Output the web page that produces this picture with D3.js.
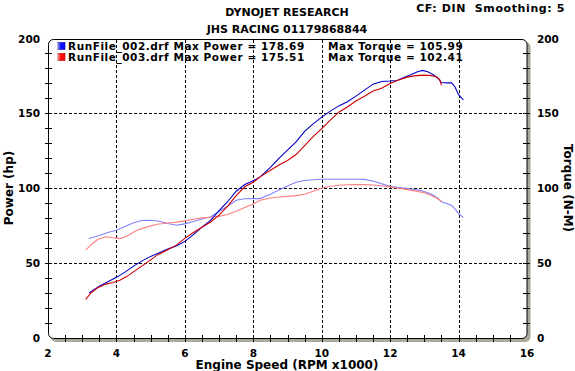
<!DOCTYPE html>
<html>
<head>
<meta charset="utf-8">
<script src="https://cdn.jsdelivr.net/npm/d3@7"></script>
<style>
  body { margin: 0; background: #fff; }
  svg { display: block; font-family: "DejaVu Sans", Verdana, sans-serif; font-weight: bold; }
</style>
</head>
<body>
<div id="chart"></div>
<script>
// run 002 (blue)
const rpm002 = [3.2, 3.5, 3.75, 4.0, 4.25, 4.5, 4.75, 5.0, 5.25, 5.5, 5.75, 6.0, 6.25, 6.5, 6.75, 7.0, 7.25, 7.5, 7.75, 8.0,
  8.2, 8.5, 8.75, 9.0, 9.25, 9.5, 9.75, 10.0, 10.25, 10.5, 10.75, 11.0, 11.25, 11.5, 11.75, 12.0, 12.2, 12.4, 12.6, 12.8,
  12.95, 13.1, 13.25, 13.4, 13.5, 13.65, 13.8, 13.9, 14.0, 14.14];
const power002 = [30, 34.5, 37.5, 40.5, 44, 48, 51.5, 54.5, 57, 59.5, 61.5, 64.5, 69, 74, 78.5, 85, 91, 98, 102.5, 105,
  107.6, 114, 120, 125.5, 131, 138, 143, 147.5, 151.5, 155, 157.8, 161.5, 165.5, 169.5, 171.3, 171.6, 172, 174, 175.8, 177.8,
  178.69, 177.8, 176, 173.5, 170.6, 170.4, 170.4, 167.5, 162.5, 159];
const torque002 = [66.4, 68.5, 70.5, 72, 74.5, 77, 78.5, 78.6, 78, 76.5, 75.3, 76.2, 77.8, 79.5, 81, 84.5, 88, 92, 93, 93.1,
  93.1, 96, 98.8, 101.5, 104, 105.2, 105.7, 105.99, 105.99, 105.99, 105.99, 105.99, 105.9, 104.8, 103, 101.3, 100.7, 100.2, 99.5, 98.9,
  98.2, 97, 95.5, 93.2, 91, 89.8, 88.5, 86, 83, 80.4];

// run 003 (red)
const rpm003 = [3.1, 3.25, 3.45, 3.7, 3.9, 4.1, 4.3, 4.6, 4.9, 5.2, 5.5, 5.75, 6.0, 6.25, 6.5, 6.75, 7.0, 7.25, 7.5, 7.75,
  8.0, 8.2, 8.5, 8.75, 9.0, 9.25, 9.5, 9.75, 10.0, 10.25, 10.5, 10.75, 11.0, 11.25, 11.5, 11.75, 12.0, 12.25, 12.5, 12.75,
  13.0, 13.2, 13.35, 13.45, 13.5];
const power003 = [25.8, 30, 33.5, 36, 37, 38.5, 41, 45.8, 50.5, 55.5, 59, 62, 66.5, 70.5, 74, 77.5, 82, 88, 95, 101,
  104, 107.6, 112, 115.5, 118.5, 122.5, 128.5, 134.5, 139.8, 145.5, 150.8, 154.3, 158.3, 161.5, 165, 166.8, 170, 172.3, 174.2, 175.2,
  175.51, 175.2, 174.5, 172.4, 168.7];
const torque003 = [58.7, 62, 65.8, 67.6, 66.9, 66.4, 68, 72, 74.2, 76, 76.8, 77.4, 78.2, 79.3, 80.2, 80.6, 81.2, 82.5, 84.7, 87.2,
  89.5, 92, 93.5, 94.2, 94.6, 95.1, 96, 98, 100.2, 101.3, 102, 102.3, 102.41, 102.4, 102.2, 101.7, 100.9, 100, 99.1, 98.1,
  97, 95.2, 93.5, 92, 91.5];

const legendNames = ["RunFile_002.drf", "RunFile_003.drf"];
const maxPower = ["178.69", "175.51"];
const maxTorque = ["105.99", "102.41"];

const xTicks = [2, 4, 6, 8, 10, 12, 14, 16];
const yTicks = [0, 50, 100, 150, 200];
const xGrid = [4, 6, 8, 10, 12, 14];
const yGrid = [50, 100, 150];

const W = 575, H = 371;
const svg = d3.select("#chart").append("svg")
    .attr("width", W)
    .attr("height", H);

svg.append("rect").attr("width", W).attr("height", H).attr("fill", "#fff");

// scales
const xs = d3.scaleLinear().domain([2, 16]).range([48, 527]);
const ys = d3.scaleLinear().domain([0, 200]).range([338, 38.5]);
const px = v => Math.round(v) + 0.5;

// frame + shadow
const fx0 = 48, fy0 = 39, fx1 = 526.5, fy1 = 338;
svg.append("rect")
    .attr("x", fx0 + 3).attr("y", fy0 + 3)
    .attr("width", fx1 - fx0 + 1).attr("height", fy1 - fy0 + 1)
    .attr("rx", 5)
    .attr("fill", "#aca899");
svg.append("rect")
    .attr("x", fx0 + 0.5).attr("y", fy0 + 0.5)
    .attr("width", fx1 - fx0).attr("height", fy1 - fy0)
    .attr("rx", 5)
    .attr("fill", "#fff")
    .attr("stroke", "#000")
    .attr("stroke-width", 1);

// grid
const grid = svg.append("g")
    .attr("stroke", "#000")
    .attr("stroke-width", 1)
    .attr("stroke-dasharray", "3,2")
    .attr("shape-rendering", "crispEdges");
grid.selectAll("line.v").data(xGrid).enter().append("line")
    .attr("x1", d => px(xs(d))).attr("x2", d => px(xs(d)))
    .attr("y1", fy0 + 1).attr("y2", fy1);
grid.selectAll("line.h").data(yGrid).enter().append("line")
    .attr("y1", d => px(ys(d))).attr("y2", d => px(ys(d)))
    .attr("x1", fx0 + 1).attr("x2", fx1);

// minor ticks
const ticks = svg.append("g").attr("stroke", "#000").attr("shape-rendering", "crispEdges");
const yMinor = d3.range(10, 200, 10);
ticks.selectAll("line.l").data(yMinor).enter().append("line")
    .attr("x1", 45).attr("x2", 52)
    .attr("y1", d => px(ys(d))).attr("y2", d => px(ys(d)));
ticks.selectAll("line.r").data(yMinor).enter().append("line")
    .attr("x1", 523).attr("x2", 530)
    .attr("y1", d => px(ys(d))).attr("y2", d => px(ys(d)));
const xMinor = d3.range(2.5, 16, 0.5);
ticks.selectAll("line.b").data(xMinor).enter().append("line")
    .attr("x1", d => px(xs(d))).attr("x2", d => px(xs(d)))
    .attr("y1", 335).attr("y2", 342);

// tick labels
svg.selectAll("text.yl").data(yTicks).enter().append("text")
    .attr("x", 40).attr("y", d => ys(d) + 4)
    .attr("text-anchor", "end")
    .style("font-size", "10.5px")
    .text(d => d);
svg.selectAll("text.yr").data(yTicks).enter().append("text")
    .attr("x", 537).attr("y", d => ys(d) + 4)
    .style("font-size", "10.5px")
    .text(d => d);
svg.selectAll("text.xl").data(xTicks).enter().append("text")
    .attr("x", d => xs(d)).attr("y", 357)
    .attr("text-anchor", "middle")
    .style("font-size", "10.5px")
    .text(d => d);

// axis titles
svg.append("text")
    .attr("transform", "translate(12.5,188) rotate(-90)")
    .attr("text-anchor", "middle")
    .style("font-size", "12px")
    .text("Power (hp)");
svg.append("text")
    .attr("transform", "translate(563.5,188) rotate(90)")
    .attr("text-anchor", "middle")
    .style("font-size", "12px")
    .text("Torque (N-M)");
svg.append("text")
    .attr("x", 287).attr("y", 369)
    .attr("text-anchor", "middle")
    .style("font-size", "12px")
    .text("Engine Speed (RPM x1000)");

// titles
svg.append("text")
    .attr("x", 287).attr("y", 16)
    .attr("text-anchor", "middle")
    .style("font-size", "11px")
    .text("DYNOJET RESEARCH");
svg.append("text")
    .attr("x", 287).attr("y", 32.5)
    .attr("text-anchor", "middle")
    .style("font-size", "11px")
    .text("JHS RACING 01179868844");
svg.append("text")
    .attr("x", 565).attr("y", 12)
    .attr("text-anchor", "end")
    .style("font-size", "11px")
    .style("white-space", "pre")
    .style("letter-spacing", "0.6px")
    .text("CF: DIN  Smoothing: 5");

// curves
const line = d3.line().x(d => xs(d[0])).y(d => ys(d[1]));
const series = [
    { rpm: rpm002, vals: torque002, color: "#8080ff" },
    { rpm: rpm003, vals: torque003, color: "#ff7f7f" },
    { rpm: rpm002, vals: power002, color: "#0000c8" },
    { rpm: rpm003, vals: power003, color: "#d00000" }
];
svg.append("g").selectAll("path").data(series).enter().append("path")
    .attr("d", s => line(s.rpm.map((r, i) => [r, s.vals[i]])))
    .attr("fill", "none")
    .attr("stroke", s => s.color)
    .attr("stroke-width", 1.1);

// legend
const defs = svg.append("defs");
[["gb", "#d0d0ff", "#1010ff"], ["gr", "#ffd0d0", "#ff1010"]].forEach(g => {
    const lg = defs.append("linearGradient").attr("id", g[0]);
    lg.append("stop").attr("offset", "0").attr("stop-color", g[1]);
    lg.append("stop").attr("offset", "0.35").attr("stop-color", g[2]);
    lg.append("stop").attr("offset", "1").attr("stop-color", g[2]);
});
const legend = svg.selectAll("g.legend").data(legendNames).enter().append("g")
    .attr("class", "legend");
legend.append("rect")
    .attr("x", 58).attr("y", (d, i) => 42.5 + i * 11)
    .attr("width", 7).attr("height", 7)
    .attr("fill", (d, i) => i === 0 ? "url(#gb)" : "url(#gr)")
    .attr("stroke", (d, i) => i === 0 ? "#0000a0" : "#a00000")
    .attr("stroke-width", 0.6);
legend.append("text")
    .attr("x", 68).attr("y", (d, i) => 49.5 + i * 11)
    .style("font-size", "10.5px")
    .style("letter-spacing", "0.55px")
    .text((d, i) => d + " Max Power = " + maxPower[i]);
legend.append("text")
    .attr("x", 328).attr("y", (d, i) => 49.5 + i * 11)
    .style("font-size", "10.5px")
    .style("letter-spacing", "0.55px")
    .text((d, i) => "Max Torque = " + maxTorque[i]);
</script>
</body>
</html>
